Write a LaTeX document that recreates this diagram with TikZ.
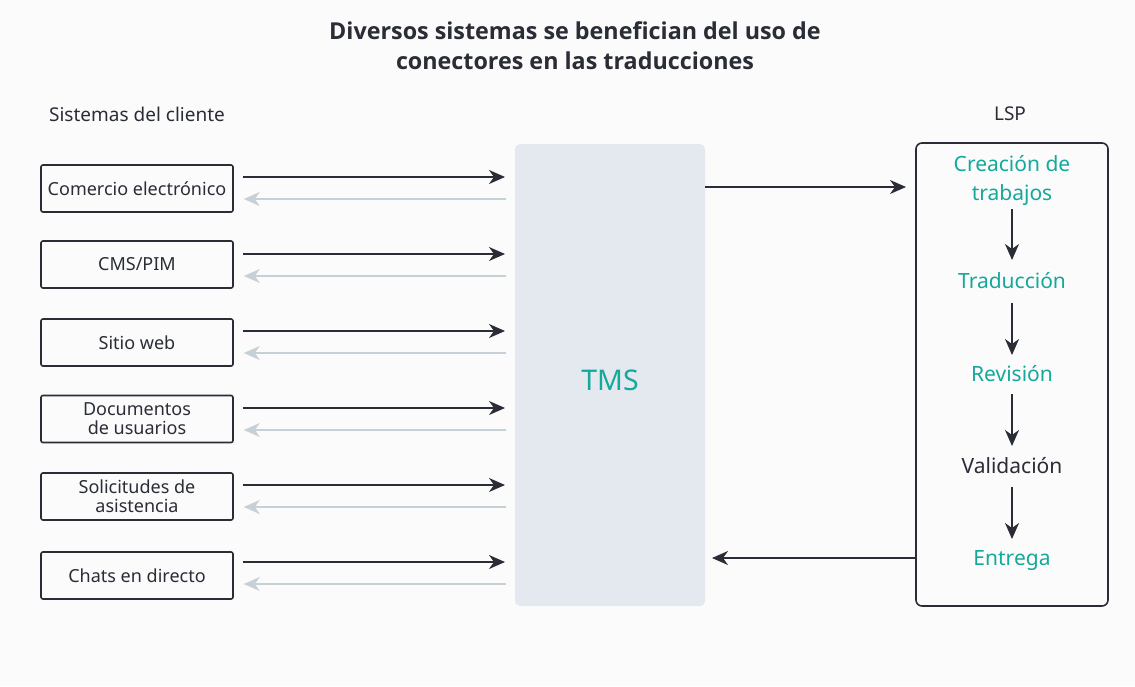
\documentclass[tikz,border=0pt]{standalone}
\usepackage{fontspec}
\setmainfont{Noto Sans}
\newfontfamily\titlefont{Open Sans}
\usetikzlibrary{arrows.meta}
\definecolor{ink}{HTML}{2A2D36}
\definecolor{teal}{HTML}{14A99B}
\definecolor{greyarr}{HTML}{C5D0D7}
\definecolor{tmsfill}{HTML}{E4E8EF}
\definecolor{bg}{HTML}{FBFBFC}
\tikzset{
  client/.style={draw=ink, line width=1.6pt, rounded corners=2pt, minimum width=192pt, minimum height=47pt, align=center, font=\fontsize{18}{19}\selectfont, text=ink, inner sep=0pt},
  fwd/.style={draw=ink, line width=1.6pt, -{Stealth[length=16pt,width=14pt,inset=5pt]}},
  back/.style={draw=greyarr, line width=1.6pt, -{Stealth[length=16pt,width=14pt,inset=5pt]}},
  down/.style={draw=ink, line width=1.6pt, -{Stealth[length=16pt,width=14pt,inset=5pt]}},
  step1/.style={font=\fontsize{21}{29}\selectfont, text=teal, align=center, inner sep=0pt},
  lbl/.style={font=\fontsize{19}{19}\selectfont, text=ink, inner sep=0pt}
}
\begin{document}
\begin{tikzpicture}[x=1pt,y=-1pt]
\useasboundingbox (0,0) rectangle (1135,686);
\fill[bg] (0,0) rectangle (1135,686);
\node[font=\titlefont\bfseries\fontsize{23.3}{30}\selectfont, text=ink, align=center] (title) at (575,46) {Diversos sistemas se benefician del uso de\\conectores en las traducciones};
\node[lbl] (sc) at (137,114) {Sistemas del cliente};
\node[lbl] (lsplbl) at (1010,114) {LSP};
% TMS
\node[fill=tmsfill, rounded corners=5pt, minimum width=190pt, minimum height=462pt, inner sep=0pt] (tms) at (610,375) {};
\node[font=\fontsize{28.5}{28.5}\selectfont, text=teal] (tmst) at (610,380) {TMS};
% LSP
\node[draw=ink, line width=1.6pt, rounded corners=6pt, minimum width=192pt, minimum height=463pt, inner sep=0pt] (lsp) at (1012,374.5) {};
% client boxes
\node[client] (c1) at (137,188.5) {Comercio electrónico};
\node[client] (c2) at (137,264.5) {CMS/PIM};
\node[client] (c3) at (137,342.5) {Sitio web};
\node[client] (c4) at (137,419) {Documentos\\de usuarios};
\node[client] (c5) at (137,496.5) {Solicitudes de\\asistencia};
\node[client] (c6) at (137,575.5) {Chats en directo};
% arrows client <-> TMS
\foreach \i/\ya/\yb in {1/177/199, 2/254/276, 3/331/353, 4/408/430, 5/485/507, 6/562/584} {
  \coordinate (fa\i) at (c\i.east |- 0,\ya);
  \coordinate (fb\i) at (505,\ya);
  \coordinate (ba\i) at (506,\yb);
  \coordinate (bb\i) at (c\i.east |- 0,\yb);
  \draw[fwd] ([xshift=9pt]fa\i) -- (fb\i);
  \draw[back] (ba\i) -- ([xshift=10pt]bb\i);
}
% LSP steps
\node[step1] (s1) at (1012,180) {Creación de\\trabajos};
\node[step1] (s2) at (1012,281) {Traducción};
\node[step1] (s3) at (1012,374) {Revisión};
\node[step1, text=ink] (s4) at (1012,466) {Validación};
\node[step1] (s5) at (1012,561) {Entrega};
\draw[down] (1012,209) -- (1012,260);
\draw[down] (1012,303) -- (1012,355);
\draw[down] (1012,394) -- (1012,446);
\draw[down] (1012,487) -- (1012,539);
% TMS <-> LSP
\coordinate (t1) at (tms.east |- 0,187);
\coordinate (l1) at (906,187);
\draw[fwd] (t1) -- (l1);
\coordinate (l2) at (lsp.west |- 0,558);
\coordinate (t2) at (712,558);
\draw[fwd] (l2) -- (t2);
\end{tikzpicture}
\end{document}
